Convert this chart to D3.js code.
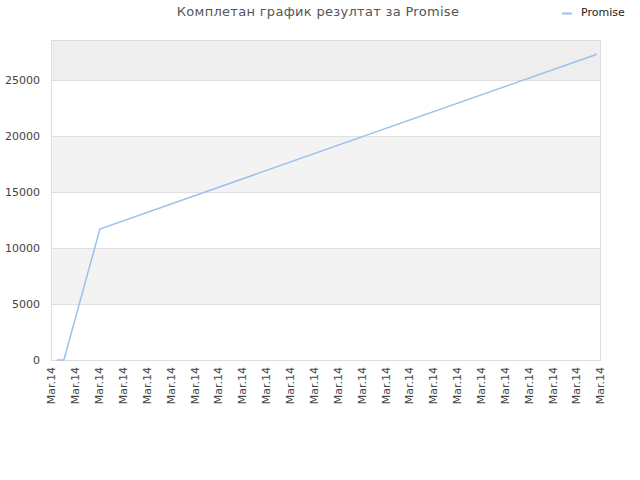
<!DOCTYPE html>
<html>
<head>
<meta charset="utf-8">
<script src="https://cdn.jsdelivr.net/npm/d3@7"></script>
<style>
  body { margin: 0; background: #fff; }
  text { font-family: "DejaVu Sans", sans-serif; }
</style>
</head>
<body>
<div id="container"></div>
<script>
const w = 640;
const h = 480;
const margin = {left: 51, right: 40, top: 40, bottom: 120};

const title = 'Комплетан график резултат за Promise';
const seriesName = 'Promise';
// hours into the day (all ticks read "Mar.14")
const hours = [0.25, 0.54, 2.05, 22.87];
const values = [0, 0, 11700, 27300];
const tickHours = d3.range(0, 24);
const tickLabel = 'Mar.14';
const yTicks = [0, 5000, 10000, 15000, 20000, 25000];
const yMax = 28571;

const svg = d3.select('#container')
  .append('svg')
  .attr('width', w)
  .attr('height', h);

const xScale = d3.scaleLinear()
  .domain([0, 23])
  .range([margin.left, w - margin.right]);
const yScale = d3.scaleLinear()
  .domain([0, yMax])
  .range([h - margin.bottom, margin.top]);

// alternating bands
const bands = [[5000, 10000, '#f3f3f3'], [15000, 20000, '#f3f3f3'], [25000, yMax, '#eeeeee']];
svg.selectAll('rect.band')
  .data(bands)
  .enter()
  .append('rect')
  .attr('class', 'band')
  .attr('x', margin.left)
  .attr('width', w - margin.right - margin.left)
  .attr('y', d => yScale(d[1]))
  .attr('height', d => yScale(d[0]) - yScale(d[1]))
  .attr('fill', d => d[2]);

// grid lines
svg.selectAll('line.grid')
  .data(yTicks.slice(1))
  .enter()
  .append('line')
  .attr('class', 'grid')
  .attr('x1', margin.left)
  .attr('x2', w - margin.right)
  .attr('y1', d => yScale(d) + 0.5)
  .attr('y2', d => yScale(d) + 0.5)
  .attr('stroke', '#e0e0e0');

// plot frame
svg.append('rect')
  .attr('x', margin.left + 0.5)
  .attr('y', margin.top + 0.5)
  .attr('width', w - margin.right - margin.left)
  .attr('height', h - margin.bottom - margin.top)
  .attr('fill', 'none')
  .attr('stroke', '#dddddd');

const yAxis = d3.axisLeft(yScale)
  .tickValues(yTicks)
  .tickSize(0)
  .tickPadding(11)
  .tickFormat(d => String(d));
const yg = svg.append('g')
  .attr('transform', `translate(${margin.left},0)`)
  .call(yAxis);
yg.select('.domain').remove();
yg.selectAll('text')
  .attr('fill', '#444')
  .style('font-size', '11px');

const xAxis = d3.axisBottom(xScale)
  .tickValues(tickHours)
  .tickSize(0)
  .tickFormat(() => tickLabel);
const xg = svg.append('g')
  .attr('transform', `translate(0,${h - margin.bottom})`)
  .call(xAxis);
xg.select('.domain').remove();
xg.selectAll('text')
  .attr('fill', '#444')
  .style('font-size', '11px')
  .attr('text-anchor', 'end')
  .attr('dy', '0.35em')
  .attr('transform', 'translate(0,7) rotate(-90)')
  .attr('x', 0)
  .attr('y', 0);

const line = d3.line()
  .x((d, i) => xScale(hours[i]))
  .y(d => yScale(d));
svg.append('path')
  .datum(values)
  .attr('d', line)
  .attr('fill', 'none')
  .attr('stroke', '#99c2ee')
  .attr('stroke-width', 1.5);

svg.append('text')
  .text(title)
  .attr('x', 318)
  .attr('y', 16)
  .attr('text-anchor', 'middle')
  .attr('fill', '#555')
  .style('font-size', '13px')
  .style('letter-spacing', '0.3px');

svg.append('line')
  .attr('x1', 562)
  .attr('x2', 572)
  .attr('y1', 13.5)
  .attr('y2', 13.5)
  .attr('stroke', '#99c2ee')
  .attr('stroke-width', 2);
svg.append('text')
  .text(seriesName)
  .attr('x', 581)
  .attr('y', 16)
  .attr('fill', '#222')
  .style('font-size', '11px');
</script>
</body>
</html>
